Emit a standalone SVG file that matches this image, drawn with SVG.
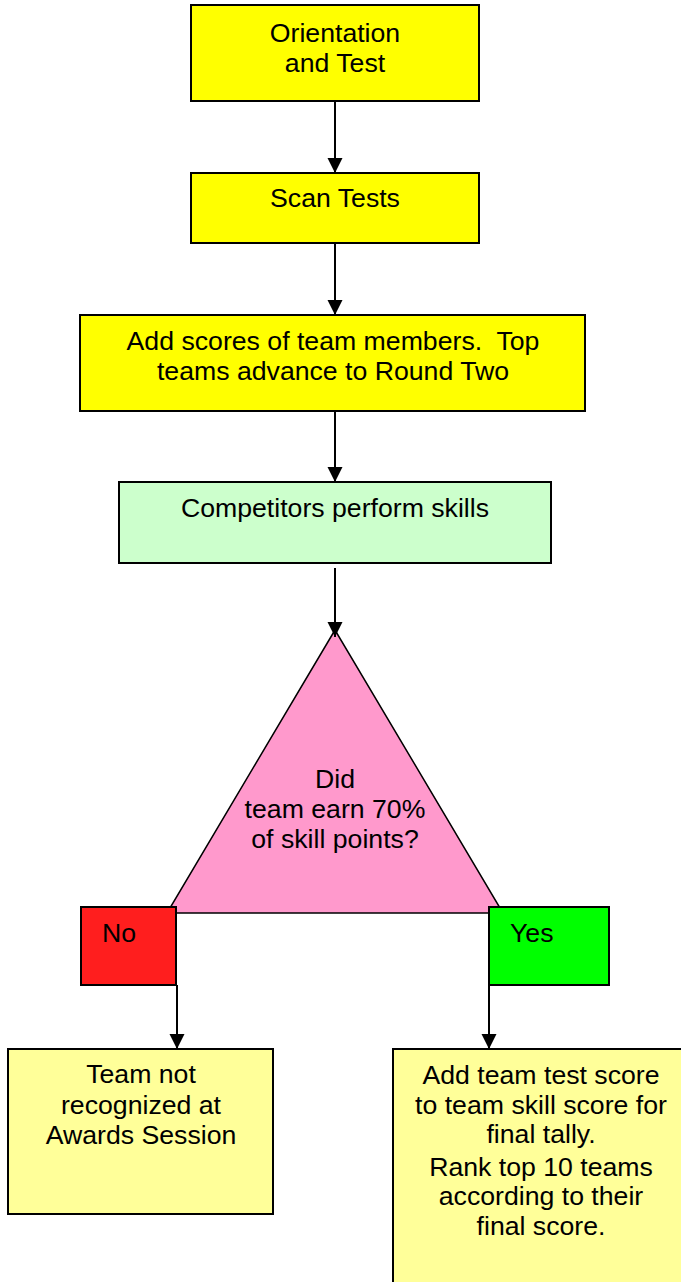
<svg xmlns="http://www.w3.org/2000/svg" width="681" height="1282" viewBox="0 0 681 1282">
<defs>
<style>
.box{stroke:#000;stroke-width:2}
.y{fill:#FFFF00}
.ly{fill:#FFFF99}
.g{fill:#CCFFCC}
.t{font-family:"Liberation Sans",Arial,sans-serif;font-size:26.67px;fill:#000;text-anchor:middle}
.tl{font-family:"Liberation Sans",Arial,sans-serif;font-size:26.67px;fill:#000}
.c{stroke:#000;stroke-width:2;fill:none}
</style>
<marker id="ah" markerWidth="16" markerHeight="16" refX="15" refY="7.5" orient="auto" markerUnits="userSpaceOnUse">
<path d="M0,0 L15,7.5 L0,15 z" fill="#000"/>
</marker>
</defs>
<rect width="681" height="1282" fill="#fff"/>
<g id="n1">
<rect class="box y" x="191" y="5" width="288" height="96"/>
<text class="t" x="335" y="42">Orientation</text>
<text class="t" x="335" y="72">and Test</text>
</g>
<g id="n2">
<rect class="box y" x="191" y="173" width="288" height="70"/>
<text class="t" x="335" y="207">Scan Tests</text>
</g>
<g id="n3">
<rect class="box y" x="80" y="315" width="505" height="96"/>
<text class="t" x="333" y="350" xml:space="preserve" style="white-space:pre">Add scores of team members.  Top</text>
<text class="t" x="333" y="380">teams advance to Round Two</text>
</g>
<g id="n4">
<rect class="box g" x="119" y="482" width="432" height="81"/>
<text class="t" x="335" y="517">Competitors perform skills</text>
</g>
<g id="n5">
<polygon points="335,630 167,913 503,913" fill="#FF99CC" stroke="#000" stroke-width="1.5"/>
<text class="t" x="335" y="788">Did</text>
<text class="t" x="335" y="818">team earn 70%</text>
<text class="t" x="335" y="848">of skill points?</text>
</g>
<g id="n6">
<rect class="box" fill="#FF1E1E" x="81" y="907" width="95" height="78"/>
<text class="tl" x="102" y="942">No</text>
</g>
<g id="n7">
<rect class="box" fill="#00FF00" x="489" y="907" width="120" height="78"/>
<text class="tl" x="510" y="942">Yes</text>
</g>
<g id="n8">
<rect class="box ly" x="8" y="1049" width="265" height="165"/>
<text class="t" x="141" y="1083">Team not</text>
<text class="t" x="141" y="1114">recognized at</text>
<text class="t" x="141" y="1144">Awards Session</text>
</g>
<g id="n9">
<rect class="box ly" x="393" y="1049" width="300" height="260"/>
<text class="t" x="541" y="1084">Add team test score</text>
<text class="t" x="541" y="1114">to team skill score for</text>
<text class="t" x="541" y="1143">final tally.</text>
<text class="t" x="541" y="1176">Rank top 10 teams</text>
<text class="t" x="541" y="1205">according to their</text>
<text class="t" x="541" y="1235">final score.</text>
</g>
<g id="connectors">
<line class="c" x1="335" y1="101" x2="335" y2="173" marker-end="url(#ah)"/>
<line class="c" x1="335" y1="243" x2="335" y2="315" marker-end="url(#ah)"/>
<line class="c" x1="335" y1="411" x2="335" y2="482" marker-end="url(#ah)"/>
<line class="c" x1="335" y1="568" x2="335" y2="637" marker-end="url(#ah)"/>
<line class="c" x1="177" y1="985" x2="177" y2="1049" marker-end="url(#ah)"/>
<line class="c" x1="489" y1="985" x2="489" y2="1049" marker-end="url(#ah)"/>
</g>
</svg>
